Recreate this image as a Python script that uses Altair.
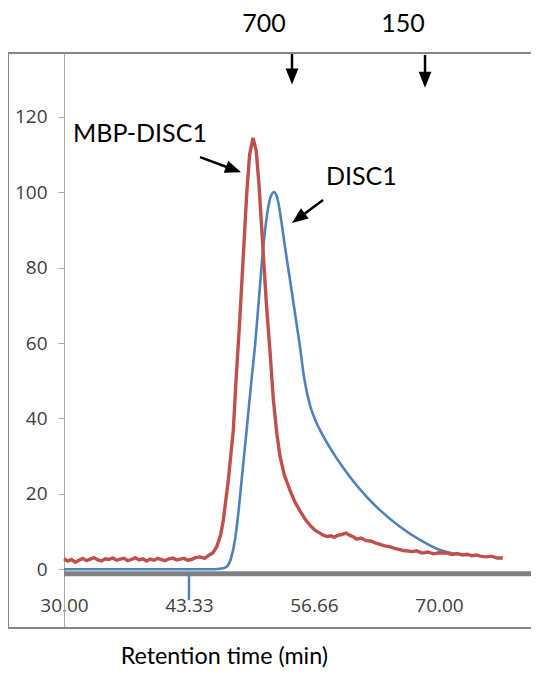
import altair as alt
import pandas as pd

# ---------------- data ----------------
red_t = [30.0, 30.4, 30.8, 31.2, 31.6, 32.0, 32.4, 32.8, 33.2, 33.6, 34.0, 34.4, 34.8, 35.2,
         35.6, 36.0, 36.4, 36.8, 37.2, 37.6, 38.0, 38.4, 38.8, 39.2, 39.6, 40.0, 40.4, 40.8,
         41.2, 41.6, 42.0, 42.4, 42.8, 43.2, 43.6, 44.0, 44.5, 45.0, 45.5, 45.9,
         46.29, 46.7, 47.0, 47.53, 48.06, 48.35, 48.7, 49.1, 49.5, 49.8, 50.16, 50.5,
         50.8, 51.2, 51.6, 51.97, 52.33, 52.7, 53.04, 53.5, 54.1, 54.6, 55.17, 55.8, 56.3,
         56.8, 57.3, 57.7, 58.1, 58.5, 58.8, 59.2, 59.7, 60.1, 60.5, 60.9, 61.2, 61.7,
         62.2, 62.7, 63.2, 63.7, 64.2, 64.7, 65.2, 65.7, 66.2, 67.2, 67.6, 68.2, 68.8,
         69.4, 70.0, 70.85, 71.4, 71.9, 72.5, 73.0, 73.5, 74.0, 74.4, 75.0, 75.6, 76.2, 76.8]
red_v = [2.8, 2.2, 2.6, 1.9, 2.4, 2.9, 2.3, 2.7, 3.1, 2.5, 2.2, 2.8, 2.6, 3.0,
         2.4, 2.7, 2.9, 2.3, 2.6, 3.1, 2.5, 2.8, 2.2, 2.7, 2.4, 2.9, 2.6, 2.3,
         2.8, 3.0, 2.5, 2.7, 2.9, 2.4, 2.6, 3.1, 3.3, 2.9, 3.8, 4.4,
         6.0, 9.0, 13.1, 23.7, 36.9, 50.2, 64.0, 82.0, 100.0, 110.0, 114.4, 111.0,
         102.0, 86.0, 70.0, 58.0, 45.0, 36.0, 30.0, 25.0, 21.0, 18.0, 15.5, 13.0, 11.5,
         10.3, 9.6, 9.0, 8.7, 8.9, 8.5, 9.0, 9.3, 9.6, 9.0, 8.6, 8.0, 8.3,
         7.6, 7.5, 7.0, 6.6, 6.2, 6.0, 5.6, 5.3, 5.0, 4.7, 4.9, 4.3, 4.6,
         4.1, 4.4, 4.3, 3.9, 4.2, 3.8, 4.0, 3.6, 3.8, 3.5, 3.3, 3.5, 3.0, 3.0]

blue_t = [30.0, 35.0, 40.0, 44.0, 46.0, 46.8, 47.35, 47.8, 48.24, 48.6, 48.95, 49.48,
          50.0, 50.4, 50.8, 51.2, 51.6, 52.0, 52.4, 52.8, 53.2, 53.6, 54.11, 54.64,
          55.17, 55.6, 56.24, 56.8, 57.31, 58.73, 60.51, 62.29, 63.7, 65.84, 67.97, 70.1,
          71.5, 73.0]
blue_v = [0.0, 0.0, 0.0, 0.0, 0.0, 0.2, 0.7, 2.8, 7.8, 15.0, 23.7, 36.9,
          50.2, 60.0, 72.0, 84.0, 93.0, 98.5, 100.0, 98.0, 92.0, 85.0, 76.7, 67.9,
          59.0, 51.0, 43.5, 39.6, 36.9, 30.8, 24.5, 19.2, 15.7, 11.3, 7.8, 5.1,
          4.2, 3.8]

x_tick_values = [30.0, 43.33, 56.66, 70.0]
y_tick_values = [0, 20, 40, 60, 80, 100, 120]

# annotation positions (data units)
left_text = ["MBP-DISC1", "DISC1"]
left_t = [30.96, 57.95]
left_v = [113.3, 101.9]
top_text = ["700", "150"]
top_t = [51.33, 66.16]
top_v = [142.4, 142.4]
axis_title = ["Retention time (min)"]
axis_title_t = [47.1]
axis_title_v = [-25.1]

arrow_t1 = [44.51, 57.63, 54.32, 68.51]
arrow_v1 = [109.3, 97.9, 136.9, 136.4]
arrow_t2 = [48.08, 55.00, 54.32, 68.51]
arrow_v2 = [106.0, 93.1, 130.7, 129.8]
arrow_angle = [290, 53.4, 0, 0]

marker_t = [43.33]
marker_v1 = [-1.0]
marker_v2 = [-8.2]

PLOT_W = 467
PLOT_H = 575
X_DOMAIN = [30, 30 + PLOT_W / 9.375]
Y_DOMAIN = [-15.56, 136.9]

red_df = pd.DataFrame({"t": red_t, "v": red_v})
blue_df = pd.DataFrame({"t": blue_t, "v": blue_v})
left_df = pd.DataFrame({"t": left_t, "v": left_v, "txt": left_text})
top_df = pd.DataFrame({"t": top_t, "v": top_v, "txt": top_text})
title_df = pd.DataFrame({"t": axis_title_t, "v": axis_title_v, "txt": axis_title})
arr_df = pd.DataFrame({"t": arrow_t1, "v": arrow_v1, "t2": arrow_t2, "v2": arrow_v2,
                       "ang": arrow_angle})
base_df = pd.DataFrame({"t": [X_DOMAIN[0]], "t2": [X_DOMAIN[1]], "v": [-1.2]})
mark_df = pd.DataFrame({"t": marker_t, "v": marker_v1, "v2": marker_v2})

xs = alt.Scale(domain=X_DOMAIN, nice=False, zero=False)
ys = alt.Scale(domain=Y_DOMAIN, nice=False, zero=False)

TICKFONT = "Open Sans"
TEXTFONT = "Lato"

X = lambda f: alt.X(f, scale=xs, title=None)
Y = lambda f: alt.Y(f, scale=ys, title=None)

blue_line = alt.Chart(blue_df).mark_line(color="#4F81BD", strokeWidth=2.6, interpolate="monotone").encode(
    x=alt.X("t:Q", scale=xs, title=None,
            axis=alt.Axis(values=x_tick_values, format=".2f", ticks=False, tickSize=0,
                          domain=False, grid=False, labelFont=TICKFONT, labelFontSize=19,
                          labelColor="#404040", labelPadding=0, offset=-32,
                          labelFlush=False, labelOverlap=False)),
    y=alt.Y("v:Q", scale=ys, title=None,
            axis=alt.Axis(values=y_tick_values, grid=False, tickSize=6, tickColor="#a6a6a6",
                          domainColor="#a6a6a6", domainWidth=1, labelFont=TICKFONT,
                          labelFontSize=19, labelColor="#404040", labelPadding=11)),
)

red_line = alt.Chart(red_df).mark_line(color="#C0504D", strokeWidth=3.4).encode(
    x=X("t:Q"), y=Y("v:Q"))

base_rule = alt.Chart(base_df).mark_rule(color="#808080", strokeWidth=5).encode(
    x=X("t:Q"), x2="t2:Q", y=Y("v:Q"))

marker = alt.Chart(mark_df).mark_rule(color="#4F81BD", strokeWidth=2.5).encode(
    x=X("t:Q"), y=Y("v:Q"), y2="v2:Q")

labels_left = alt.Chart(left_df).mark_text(font=TEXTFONT, fontSize=25, color="#000000",
                                           baseline="alphabetic", align="left").encode(
    x=X("t:Q"), y=Y("v:Q"), text="txt:N")
labels_top = alt.Chart(top_df).mark_text(font=TEXTFONT, fontSize=25, color="#000000",
                                         baseline="alphabetic", align="center").encode(
    x=X("t:Q"), y=Y("v:Q"), text="txt:N")
label_title = alt.Chart(title_df).mark_text(font=TEXTFONT, fontSize=23.3, color="#000000",
                                            baseline="alphabetic", align="center").encode(
    x=X("t:Q"), y=Y("v:Q"), text="txt:N")

arrow_lines = alt.Chart(arr_df).mark_rule(color="#000000", strokeWidth=2.5).encode(
    x=X("t:Q"), x2="t2:Q", y=Y("v:Q"), y2="v2:Q")

arrow_heads = alt.Chart(arr_df).mark_point(
    shape="M-0.8,-1L0.8,-1L0,1Z", filled=True, color="#000000", size=256, opacity=1
).encode(
    x=X("t2:Q"), y=Y("v2:Q"),
    angle=alt.Angle("ang:Q", scale=None),
)

FR = "#868686"
frame_top = alt.Chart(base_df).mark_rule(color=FR, strokeWidth=2).encode(
    x=alt.value(-56), x2=alt.value(PLOT_W), y=alt.value(0))
frame_bottom = alt.Chart(base_df).mark_rule(color=FR, strokeWidth=2).encode(
    x=alt.value(-56), x2=alt.value(PLOT_W), y=alt.value(PLOT_H))
frame_left = alt.Chart(base_df).mark_rule(color=FR, strokeWidth=2).encode(
    x=alt.value(-56), y=alt.value(0), y2=alt.value(PLOT_H))

chart = alt.layer(
    blue_line, base_rule, marker, red_line, labels_left, labels_top, label_title,
    arrow_lines, arrow_heads, frame_top, frame_bottom, frame_left,
).properties(
    width=PLOT_W, height=PLOT_H,
    autosize=alt.AutoSizeParams(type="none"),
    padding={"left": 56, "top": 45, "right": 0, "bottom": 41},
    background="white",
).configure_view(strokeWidth=0)

chart.save("out.html", embed_options={"renderer": "svg", "actions": False})
